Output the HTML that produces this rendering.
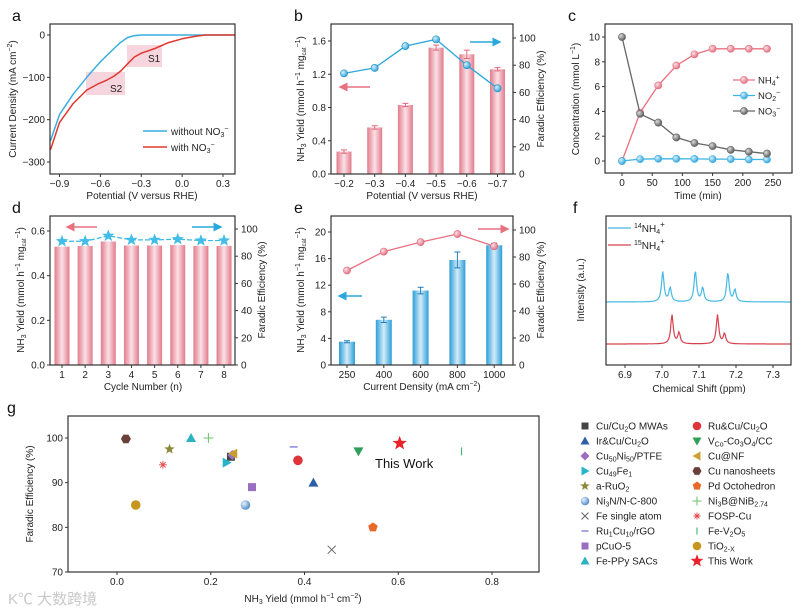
<!DOCTYPE html>
<html><head><meta charset="utf-8"><style>
html,body{margin:0;padding:0;background:#fff;}
svg{display:block;font-family:"Liberation Sans","Noto Sans CJK SC",sans-serif;}
</style></head><body>
<svg id="fig" width="806" height="611" viewBox="0 0 806 611" xmlns="http://www.w3.org/2000/svg">
<defs>
<linearGradient id="pinkBar" x1="0" x2="1" y1="0" y2="0"><stop offset="0" stop-color="#e27a8b"/><stop offset="0.5" stop-color="#fbe1e7"/><stop offset="1" stop-color="#e27a8b"/></linearGradient>
<linearGradient id="blueBar" x1="0" x2="1" y1="0" y2="0"><stop offset="0" stop-color="#2c9ed8"/><stop offset="0.5" stop-color="#d3ecf9"/><stop offset="1" stop-color="#2c9ed8"/></linearGradient>
<radialGradient id="ballBlue" cx="0.35" cy="0.35" r="0.7"><stop offset="0" stop-color="#d8f0fb"/><stop offset="1" stop-color="#2a9fd8"/></radialGradient>
<radialGradient id="ballPink" cx="0.35" cy="0.35" r="0.7"><stop offset="0" stop-color="#fbe1e6"/><stop offset="1" stop-color="#e06a7c"/></radialGradient>
<radialGradient id="ballGrey" cx="0.35" cy="0.35" r="0.7"><stop offset="0" stop-color="#dddddd"/><stop offset="1" stop-color="#555555"/></radialGradient>
<radialGradient id="ballNi" cx="0.35" cy="0.35" r="0.7"><stop offset="0" stop-color="#e8f2fb"/><stop offset="1" stop-color="#4a86c8"/></radialGradient>
<marker id="ahR" markerWidth="6" markerHeight="6" refX="5" refY="3" orient="auto"><path d="M0,0 L6,3 L0,6 z" fill="#e8707f"/></marker>
<marker id="ahB" markerWidth="6" markerHeight="6" refX="5" refY="3" orient="auto"><path d="M0,0 L6,3 L0,6 z" fill="#2aa7dc"/></marker>
</defs>
<g font-size="16" fill="#111">
<text x="12" y="21">a</text>
<text x="294" y="21">b</text>
<text x="568" y="21">c</text>
<text x="12" y="213">d</text>
<text x="294" y="213">e</text>
<text x="573" y="213">f</text>
<text x="7" y="413">g</text>
</g>
<g font-size="10" fill="#222">
<text x="142" y="199" text-anchor="middle">Potential (V versus RHE)</text>
<text transform="translate(16,99) rotate(-90)" text-anchor="middle">Current Density (mA cm<tspan dy="-4" font-size="7">−2</tspan><tspan dy="4">)</tspan></text>
<text x="422" y="199" text-anchor="middle">Potential (V versus RHE)</text>
<text transform="translate(304,99) rotate(-90)" text-anchor="middle">NH<tspan font-size="7" dy="2">3</tspan><tspan dy="-2"> Yield (mmol h</tspan><tspan dy="-4" font-size="7">−1</tspan><tspan dy="4"> mg</tspan><tspan font-size="6" dy="2">cat</tspan><tspan dy="-6" font-size="7">−1</tspan><tspan dy="4">)</tspan></text>
<text transform="translate(544,99) rotate(-90)" text-anchor="middle">Faradic Efficiency (%)</text>
<text x="698" y="199" text-anchor="middle">Time (min)</text>
<text transform="translate(579,99) rotate(-90)" text-anchor="middle">Concentration (mmol L<tspan dy="-4" font-size="7">−1</tspan><tspan dy="4">)</tspan></text>
<text x="143" y="390" text-anchor="middle">Cycle  Number (n)</text>
<text transform="translate(24,290) rotate(-90)" text-anchor="middle">NH<tspan font-size="7" dy="2">3</tspan><tspan dy="-2"> Yield (mmol h</tspan><tspan dy="-4" font-size="7">−1</tspan><tspan dy="4"> mg</tspan><tspan font-size="6" dy="2">cat</tspan><tspan dy="-6" font-size="7">−1</tspan><tspan dy="4">)</tspan></text>
<text transform="translate(265,290) rotate(-90)" text-anchor="middle">Faradic Efficiency (%)</text>
<text x="422" y="390" text-anchor="middle">Current Density (mA cm<tspan dy="-4" font-size="7">−2</tspan><tspan dy="4">)</tspan></text>
<text transform="translate(304,290) rotate(-90)" text-anchor="middle">NH<tspan font-size="7" dy="2">3</tspan><tspan dy="-2"> Yield (mmol h</tspan><tspan dy="-4" font-size="7">−1</tspan><tspan dy="4"> mg</tspan><tspan font-size="6" dy="2">cat</tspan><tspan dy="-6" font-size="7">−1</tspan><tspan dy="4">)</tspan></text>
<text transform="translate(544,290) rotate(-90)" text-anchor="middle">Faradic Efficiency (%)</text>
<text x="699" y="392" text-anchor="middle">Chemical Shift (ppm)</text>
<text transform="translate(584,290) rotate(-90)" text-anchor="middle">Intensity (a.u.)</text>
<text x="303" y="602" text-anchor="middle">NH<tspan font-size="7" dy="2">3</tspan><tspan dy="-2"> Yield (mmol h</tspan><tspan dy="-4" font-size="7">−1</tspan><tspan dy="4"> cm</tspan><tspan dy="-4" font-size="7">−2</tspan><tspan dy="4">)</tspan></text>
<text transform="translate(33,494) rotate(-90)" text-anchor="middle">Faradic Efficiency (%)</text>
</g>
<text x="8" y="604" font-size="15" fill="#c8c8c8">K℃ 大数跨境</text>
</svg>
<script>
const NS='http://www.w3.org/2000/svg';
const svg=document.getElementById('fig');
function el(tag,attrs,parent){const e=document.createElementNS(NS,tag);for(const k in attrs)e.setAttribute(k,attrs[k]);(parent||svg).appendChild(e);return e;}
function lin(d0,d1,p0,p1){return v=>p0+(v-d0)*(p1-p0)/(d1-d0);}

// ===== data arrays =====
const aPotBlue=[-0.966,-0.9,-0.8,-0.7,-0.6,-0.5,-0.45,-0.4,-0.35,-0.3,0.39];
const aCurBlue=[-250,-188,-140,-100,-63,-32,-17,-6,-1.5,0,0];
const aPotRed=[-0.966,-0.9,-0.8,-0.7,-0.62,-0.55,-0.5,-0.45,-0.4,-0.35,-0.3,-0.2,-0.1,0,0.1,0.17,0.39];
const aCurRed=[-271,-207,-162,-130,-116,-106,-97,-85,-68,-52,-43,-32,-18,-9,-3,0,0];
const aXTicks=[-0.9,-0.6,-0.3,0.0,0.3];
const aXLabels=['−0.9','−0.6','−0.3','0.0','0.3'];
const aYTicks=[0,-100,-200,-300];
const aYLabels=['0','−100','−200','−300'];
const bCats=['−0.2','−0.3','−0.4','−0.5','−0.6','−0.7'];
const bYield=[0.27,0.56,0.83,1.52,1.44,1.26];
const bYieldErr=[0.02,0.02,0.02,0.03,0.05,0.02];
const bFE=[74,78,94,99,80,63];
const bYTicks=[0,0.4,0.8,1.2,1.6];
const bYLabels=['0.0','0.4','0.8','1.2','1.6'];
const bY2Ticks=[0,20,40,60,80,100];
const cTime=[0,30,60,90,120,150,180,210,240];
const cNH4=[0,3.9,6.1,7.7,8.6,9.05,9.05,9.05,9.05];
const cNO2=[0,0.15,0.18,0.18,0.17,0.15,0.15,0.12,0.12];
const cNO3=[10,3.8,3.1,1.9,1.45,1.2,0.9,0.75,0.6];
const cXTicks=[0,50,100,150,200,250];
const cYTicks=[0,2,4,6,8,10];
const dCats=['1','2','3','4','5','6','7','8'];
const dYield=[0.53,0.533,0.553,0.535,0.535,0.537,0.533,0.533];
const dFE=[91,91,95,92,92,92.5,91.5,91.5];
const dYTicks=[0,0.2,0.4,0.6];
const dYLabels=['0.0','0.2','0.4','0.6'];
const dY2Ticks=[0,20,40,60,80,100];
const eCats=['250','400','600','800','1000'];
const eYield=[3.5,6.8,11.2,15.8,18];
const eYieldErr=[0.15,0.4,0.5,1.2,0.3];
const eFE=[70,84,91,97,88];
const eYTicks=[0,4,8,12,16,20];
const eY2Ticks=[0,20,40,60,80,100];
const fPeaks14=[7.002,7.022,7.090,7.110,7.178,7.197];
const fAmp14=[30,14,31,14,29,12];
const fPeaks15=[7.027,7.046,7.150,7.169];
const fAmp15=[29,11,29,10];
const fXTicks=[6.9,7.0,7.1,7.2,7.3];
const gNames=['Cu/Cu₂O MWAs','Ir&Cu/Cu₂O','Cu50Ni50/PTFE','Cu49Fe1','a-RuO₂','Ni3N/N-C-800','Fe single atom','Ru1Cu10/rGO','pCuO-5','Fe-PPy SACs','Ru&Cu/Cu₂O','VCo-Co₃O₄/CC','Cu@NF','Cu nanosheets','Pd Octohedron','Ni3B@NiB2.74','FOSP-Cu','Fe-V₂O₅','TiO2-X','This Work'];
const gYield=[0.243,0.419,0.246,0.234,0.112,0.274,0.458,0.377,0.288,0.158,0.386,0.515,0.248,0.019,0.546,0.195,0.098,0.735,0.040,0.603];
const gFE=[95.8,90,96.2,94.5,97.5,85,75,98,89,100,95,97,96.5,99.8,80,100,94,97,85,98.8];
const gXTicks=[0,0.2,0.4,0.6,0.8];
const gYTicks=[70,80,90,100];

// ===== helpers =====
function frame(name,x0,y0,x1,y1){const r=el('rect',{x:x0,y:y0,width:x1-x0,height:y1-y0,fill:'none',stroke:'#333','stroke-width':1.2});

}
function xAxis(prefix,ticks,labels,sx,yb){ticks.forEach((t,i)=>{const x=sx(t);
const tk=el('line',{x1:x,x2:x,y1:yb,y2:yb+3,stroke:'#333','stroke-width':1});


const tx=el('text',{x:x,y:yb+13,'font-size':10,'text-anchor':'middle',fill:'#222'});tx.textContent=labels[i];

});}
function yAxis(prefix,ticks,labels,sy,xl,right){ticks.forEach((t,i)=>{const y=sy(t);
const tk=el('line',{x1:xl,x2:right?xl+3:xl-3,y1:y,y2:y,stroke:'#333','stroke-width':1});


const tx=el('text',{x:right?xl+6:xl-5,y:y+3.5,'font-size':10,'text-anchor':right?'start':'end',fill:'#222'});tx.textContent=labels[i];

});}
function pts(xs,ys,sx,sy){return xs.map((v,i)=>sx(v).toFixed(1)+','+sy(ys[i]).toFixed(1)).join(' ');}
function starPath(cx,cy,r){let d='';for(let i=0;i<10;i++){const rr=i%2?r*0.42:r;const a=-Math.PI/2+i*Math.PI/5;d+=(i?'L':'M')+(cx+rr*Math.cos(a)).toFixed(1)+','+(cy+rr*Math.sin(a)).toFixed(1);}return d+'Z';}
function arrow(name,x1,x2,y,col){const a=el('line',{x1:x1,x2:x2,y1:y,y2:y,stroke:col,'stroke-width':1.5,'marker-end':col==='#e8707f'?'url(#ahR)':'url(#ahB)'});

}

// ===== panel a =====
(function(){const x0=50,x1=235,y0=24,y1=174;
const sx=lin(-0.9,0.3,59.5,223),sy=lin(0,-300,35,162);
const s1=el('rect',{x:127,y:45,width:35,height:22,fill:'#f4c3d2',opacity:0.7});


const s2=el('rect',{x:86,y:72,width:39,height:23,fill:'#f4c3d2',opacity:0.7});


const blue=el('polyline',{points:pts(aPotBlue,aCurBlue,sx,sy),fill:'none',stroke:'#3aaee0','stroke-width':1.5,'stroke-linejoin':'round'});


const red=el('polyline',{points:pts(aPotRed,aCurRed,sx,sy),fill:'none',stroke:'#e0382d','stroke-width':1.5,'stroke-linejoin':'round'});


frame('a-plot-frame',x0,y0,x1,y1);
xAxis('a',aXTicks,aXLabels,sx,y1);yAxis('a',aYTicks,aYLabels,sy,x0,false);
const t1=el('text',{x:148,y:62,'font-size':10,fill:'#222'});t1.textContent='S1';


const t2=el('text',{x:110,y:92,'font-size':10,fill:'#222'});t2.textContent='S2';


const l1=el('line',{x1:143,x2:167,y1:131,y2:131,stroke:'#3aaee0','stroke-width':1.5});


const lt1=el('text',{x:171,y:135,'font-size':10,fill:'#222'});lt1.innerHTML='without NO<tspan font-size="7" dy="2">3</tspan><tspan font-size="7" dy="-6">−</tspan>';


const l2=el('line',{x1:143,x2:167,y1:147,y2:147,stroke:'#e0382d','stroke-width':1.5});


const lt2=el('text',{x:171,y:151,'font-size':10,fill:'#222'});lt2.innerHTML='with NO<tspan font-size="7" dy="2">3</tspan><tspan font-size="7" dy="-6">−</tspan>';


})();

// ===== panel b =====
(function(){const x0=331,x1=513,y0=24,y1=174;
const sy=lin(0,1.6,174,41),sy2=lin(0,100,174,38);
const sx=i=>344+i*30.7;
bCats.forEach((c,i)=>{const x=sx(i),y=sy(bYield[i]);
const b=el('rect',{x:x-7.5,y:y,width:15,height:y1-y,fill:'url(#pinkBar)'});


const e=el('path',{d:`M${x},${sy(bYield[i]+bYieldErr[i])}V${sy(bYield[i]-bYieldErr[i])}M${x-3},${sy(bYield[i]+bYieldErr[i])}h6M${x-3},${sy(bYield[i]-bYieldErr[i])}h6`,stroke:'#e06a7c','stroke-width':1,fill:'none'});

});
const ln=el('polyline',{points:bFE.map((v,i)=>sx(i)+','+sy2(v)).join(' '),fill:'none',stroke:'#2aa7dc','stroke-width':1.3});


bFE.forEach((v,i)=>{const c=el('circle',{cx:sx(i),cy:sy2(v),r:3.6,fill:'url(#ballBlue)',stroke:'#1f8fc8','stroke-width':0.6});

});
frame('b-plot-frame',x0,y0,x1,y1);
xAxis('b',bCats.map((c,i)=>i),bCats,sx,y1);
yAxis('b',bYTicks,bYLabels,sy,x0,false);
yAxis('b2',bY2Ticks,bY2Ticks.map(String),sy2,x1,true);
arrow('b-left-arrow',370,340,87,'#e8707f');
arrow('b-right-arrow',470,500,42,'#2aa7dc');
})();

// ===== panel c =====
(function(){const x0=605,x1=792,y0=24,y1=173;
const sx=lin(0,250,622,773),sy=lin(0,10,161,37);
const series=[[cNH4,'#e8707f','url(#ballPink)','nh4'],[cNO2,'#3ab4e4','url(#ballBlue)','no2'],[cNO3,'#666','url(#ballGrey)','no3']];
series.forEach(s=>{const l=el('polyline',{points:pts(cTime,s[0],sx,sy),fill:'none',stroke:s[1],'stroke-width':1.3});


s[0].forEach((v,i)=>{const c=el('circle',{cx:sx(cTime[i]),cy:sy(v),r:3.6,fill:s[2],stroke:s[1],'stroke-width':0.6});

});});
frame('c-plot-frame',x0,y0,x1,y1);
xAxis('c',cXTicks,cXTicks.map(String),sx,y1);yAxis('c',cYTicks,cYTicks.map(String),sy,x0,false);
const lab=['NH<tspan font-size="7" dy="2">4</tspan><tspan font-size="7" dy="-6">+</tspan>','NO<tspan font-size="7" dy="2">2</tspan><tspan font-size="7" dy="-6">−</tspan>','NO<tspan font-size="7" dy="2">3</tspan><tspan font-size="7" dy="-6">−</tspan>'];
series.forEach((s,i)=>{const y=80+i*15.5;
const l=el('line',{x1:733,x2:755,y1:y,y2:y,stroke:s[1],'stroke-width':1.3});


const c=el('circle',{cx:744,cy:y,r:3.6,fill:s[2],stroke:s[1],'stroke-width':0.6});


const t=el('text',{x:758,y:y+3.5,'font-size':9.5,fill:'#222'});t.innerHTML=lab[i];

});
})();

// ===== panel d =====
(function(){const x0=50,x1=235,y0=216,y1=365;
const sy=lin(0,0.6,365,231),sy2=lin(0,100,365,229);
const sx=i=>62+i*23.15;
dCats.forEach((c,i)=>{const y=sy(dYield[i]);
const b=el('rect',{x:sx(i)-7.5,y:y,width:15,height:y1-y,fill:'url(#pinkBar)'});

});
const ln=el('polyline',{points:dFE.map((v,i)=>sx(i)+','+sy2(v)).join(' '),fill:'none',stroke:'#3ab8e6','stroke-width':1.2,'stroke-dasharray':'5,2'});


dFE.forEach((v,i)=>{const s=el('path',{d:starPath(sx(i),sy2(v),6.5),fill:'#41bde8'});

});
frame('d-plot-frame',x0,y0,x1,y1);
xAxis('d',dCats.map((c,i)=>i),dCats,sx,y1);
yAxis('d',dYTicks,dYLabels,sy,x0,false);
yAxis('d2',dY2Ticks,dY2Ticks.map(String),sy2,x1,true);
arrow('d-left-arrow',97,67,227,'#e8707f');
arrow('d-right-arrow',192,221,227,'#2aa7dc');
})();

// ===== panel e =====
(function(){const x0=331,x1=513,y0=216,y1=365;
const sy=lin(0,20,365,232),sy2=lin(0,100,365,230);
const sx=i=>347+i*36.8;
eCats.forEach((c,i)=>{const x=sx(i),y=sy(eYield[i]);
const b=el('rect',{x:x-8,y:y,width:16,height:y1-y,fill:'url(#blueBar)'});


const e=el('path',{d:`M${x},${sy(eYield[i]+eYieldErr[i])}V${sy(eYield[i]-eYieldErr[i])}M${x-3},${sy(eYield[i]+eYieldErr[i])}h6M${x-3},${sy(eYield[i]-eYieldErr[i])}h6`,stroke:'#1f7fb8','stroke-width':1,fill:'none'});

});
const ln=el('polyline',{points:eFE.map((v,i)=>sx(i)+','+sy2(v)).join(' '),fill:'none',stroke:'#e8707f','stroke-width':1.3});


eFE.forEach((v,i)=>{const c=el('circle',{cx:sx(i),cy:sy2(v),r:3.6,fill:'url(#ballPink)',stroke:'#e06a7c','stroke-width':0.6});

});
frame('e-plot-frame',x0,y0,x1,y1);
xAxis('e',eCats.map((c,i)=>i),eCats,sx,y1);
yAxis('e',eYTicks,eYTicks.map(String),sy,x0,false);
yAxis('e2',eY2Ticks,eY2Ticks.map(String),sy2,x1,true);
arrow('e-left-arrow',362,339,296,'#2aa7dc');
arrow('e-right-arrow',478,508,229,'#e8707f');
})();

// ===== panel f =====
(function(){const x0=606,x1=791,y0=216,y1=365;
const sx=lin(6.9,7.3,625,773);
function spec(peaks,amps,base){let p=[];for(let i=0;i<=220;i++){const v=6.85+i*0.5/220;let s=0;peaks.forEach((c,k)=>{const w=0.004;s+=amps[k]*w*w/((v-c)*(v-c)+w*w);});p.push(sx(v).toFixed(1)+','+(base-s).toFixed(1));}return p.join(' ');}
const b=el('polyline',{points:spec(fPeaks14,fAmp14,302),fill:'none',stroke:'#48b8e4','stroke-width':1.2});


const r=el('polyline',{points:spec(fPeaks15,fAmp15,344),fill:'none',stroke:'#d6404f','stroke-width':1.2});


frame('f-plot-frame',x0,y0,x1,y1);
xAxis('f',fXTicks,fXTicks.map(v=>v.toFixed(1)),sx,y1);
const l1=el('line',{x1:608,x2:631,y1:228,y2:228,stroke:'#48b8e4','stroke-width':1.3});


const t1=el('text',{x:634,y:232,'font-size':10,fill:'#222'});t1.innerHTML='<tspan font-size="7" dy="-4">14</tspan><tspan dy="4">NH</tspan><tspan font-size="7" dy="2">4</tspan><tspan font-size="8" dy="-7">+</tspan>';


const l2=el('line',{x1:608,x2:631,y1:245,y2:245,stroke:'#d6404f','stroke-width':1.3});


const t2=el('text',{x:634,y:249,'font-size':10,fill:'#222'});t2.innerHTML='<tspan font-size="7" dy="-4">15</tspan><tspan dy="4">NH</tspan><tspan font-size="7" dy="2">4</tspan><tspan font-size="8" dy="-7">+</tspan>';


})();

// ===== panel g =====
const gStyle=[['square','#444'],['tri','#2d5fa8'],['diamond','#9a6fbf'],['triR','#27b3c9'],['star','#8a8a3a'],['ball','#4a86c8'],['x','#666'],['dash','#6a6ad0'],['square','#9a6fbf'],['tri','#2bb3c0'],['circle','#e0333a'],['triD','#2ca05a'],['triL','#c8a030'],['hex','#6b3f3a'],['pent','#e8672a'],['plus','#6bc46b'],['ast','#e04a4a'],['vbar','#4cb87a'],['circle','#c8951f'],['bigstar','#e8232a']];
function gMarker(type,col,x,y,s){
if(type==='square')return el('rect',{x:x-s,y:y-s,width:2*s,height:2*s,fill:col});
if(type==='circle')return el('circle',{cx:x,cy:y,r:s+0.8,fill:col});
if(type==='ball')return el('circle',{cx:x,cy:y,r:s+0.8,fill:'url(#ballNi)'});
if(type==='tri')return el('path',{d:`M${x},${y-s-1}L${x+s+1},${y+s}L${x-s-1},${y+s}Z`,fill:col});
if(type==='triD')return el('path',{d:`M${x},${y+s+1}L${x+s+1},${y-s}L${x-s-1},${y-s}Z`,fill:col});
if(type==='triR')return el('path',{d:`M${x+s+1},${y}L${x-s},${y-s-1}L${x-s},${y+s+1}Z`,fill:col});
if(type==='triL')return el('path',{d:`M${x-s-1},${y}L${x+s},${y-s-1}L${x+s},${y+s+1}Z`,fill:col});
if(type==='diamond')return el('path',{d:`M${x},${y-s-1}L${x+s+1},${y}L${x},${y+s+1}L${x-s-1},${y}Z`,fill:col});
if(type==='star')return el('path',{d:starPath(x,y,s+1.5),fill:col});
if(type==='bigstar')return el('path',{d:starPath(x,y,s+3.5),fill:col});
if(type==='hex'){let d='';for(let i=0;i<6;i++){const a=i*Math.PI/3;d+=(i?'L':'M')+(x+(s+1)*Math.cos(a))+','+(y+(s+1)*Math.sin(a));}return el('path',{d:d+'Z',fill:col});}
if(type==='pent'){let d='';for(let i=0;i<5;i++){const a=-Math.PI/2+i*2*Math.PI/5;d+=(i?'L':'M')+(x+(s+1)*Math.cos(a))+','+(y+(s+1)*Math.sin(a));}return el('path',{d:d+'Z',fill:col});}
if(type==='x')return el('path',{d:`M${x-s},${y-s}L${x+s},${y+s}M${x-s},${y+s}L${x+s},${y-s}`,stroke:col,'stroke-width':1,fill:'none'});
if(type==='plus')return el('path',{d:`M${x-s-1},${y}H${x+s+1}M${x},${y-s-1}V${y+s+1}`,stroke:col,'stroke-width':1,fill:'none'});
if(type==='ast')return el('path',{d:`M${x-s},${y}H${x+s}M${x},${y-s}V${y+s}M${x-s*0.7},${y-s*0.7}L${x+s*0.7},${y+s*0.7}M${x-s*0.7},${y+s*0.7}L${x+s*0.7},${y-s*0.7}`,stroke:col,'stroke-width':0.9,fill:'none'});
if(type==='dash')return el('line',{x1:x-s,x2:x+s,y1:y,y2:y,stroke:col,'stroke-width':1.2});
if(type==='vbar')return el('line',{x1:x,x2:x,y1:y-s,y2:y+s,stroke:col,'stroke-width':1.2});}
(function(){const x0=68,x1=539,y0=416,y1=572;
const sx=lin(0,0.8,117,492),sy=lin(70,100,572,438);
gYield.forEach((v,i)=>{const m=gMarker(gStyle[i][0],gStyle[i][1],sx(v),sy(gFE[i]),4);

});
frame('g-plot-frame',x0,y0,x1,y1);
xAxis('g',gXTicks,gXTicks.map(v=>v.toFixed(1)),sx,y1);
yAxis('g',gYTicks,gYTicks.map(String),sy,x0,false);
const tw=el('text',{x:375,y:468,'font-size':13,fill:'#111'});tw.textContent='This Work';


const labels=['Cu/Cu<tspan font-size="7" dy="2">2</tspan><tspan dy="-2">O MWAs</tspan>','Ir&amp;Cu/Cu<tspan font-size="7" dy="2">2</tspan><tspan dy="-2">O</tspan>','Cu<tspan font-size="7" dy="2">50</tspan><tspan dy="-2">Ni</tspan><tspan font-size="7" dy="2">50</tspan><tspan dy="-2">/PTFE</tspan>','Cu<tspan font-size="7" dy="2">49</tspan><tspan dy="-2">Fe</tspan><tspan font-size="7" dy="2">1</tspan>','a-RuO<tspan font-size="7" dy="2">2</tspan>','Ni<tspan font-size="7" dy="2">3</tspan><tspan dy="-2">N/N-C-800</tspan>','Fe single atom','Ru<tspan font-size="7" dy="2">1</tspan><tspan dy="-2">Cu</tspan><tspan font-size="7" dy="2">10</tspan><tspan dy="-2">/rGO</tspan>','pCuO-5','Fe-PPy SACs','Ru&amp;Cu/Cu<tspan font-size="7" dy="2">2</tspan><tspan dy="-2">O</tspan>','V<tspan font-size="7" dy="2">Co</tspan><tspan dy="-2">-Co</tspan><tspan font-size="7" dy="2">3</tspan><tspan dy="-2">O</tspan><tspan font-size="7" dy="2">4</tspan><tspan dy="-2">/CC</tspan>','Cu@NF','Cu nanosheets','Pd Octohedron','Ni<tspan font-size="7" dy="2">3</tspan><tspan dy="-2">B@NiB</tspan><tspan font-size="7" dy="2">2.74</tspan>','FOSP-Cu','Fe-V<tspan font-size="7" dy="2">2</tspan><tspan dy="-2">O</tspan><tspan font-size="7" dy="2">5</tspan>','TiO<tspan font-size="7" dy="2">2-X</tspan>','This Work'];
labels.forEach((h,i)=>{const col=i<10?0:1,row=i%10;const mx=col?697:585,y=426+row*15;
const m=gMarker(gStyle[i][0],gStyle[i][1],mx,y,gStyle[i][0]==='bigstar'?3.2:3.5);


const t=el('text',{x:mx+11,y:y+3.5,'font-size':10,fill:'#222'});t.innerHTML=h;

});
})();
</script>
</body></html>
